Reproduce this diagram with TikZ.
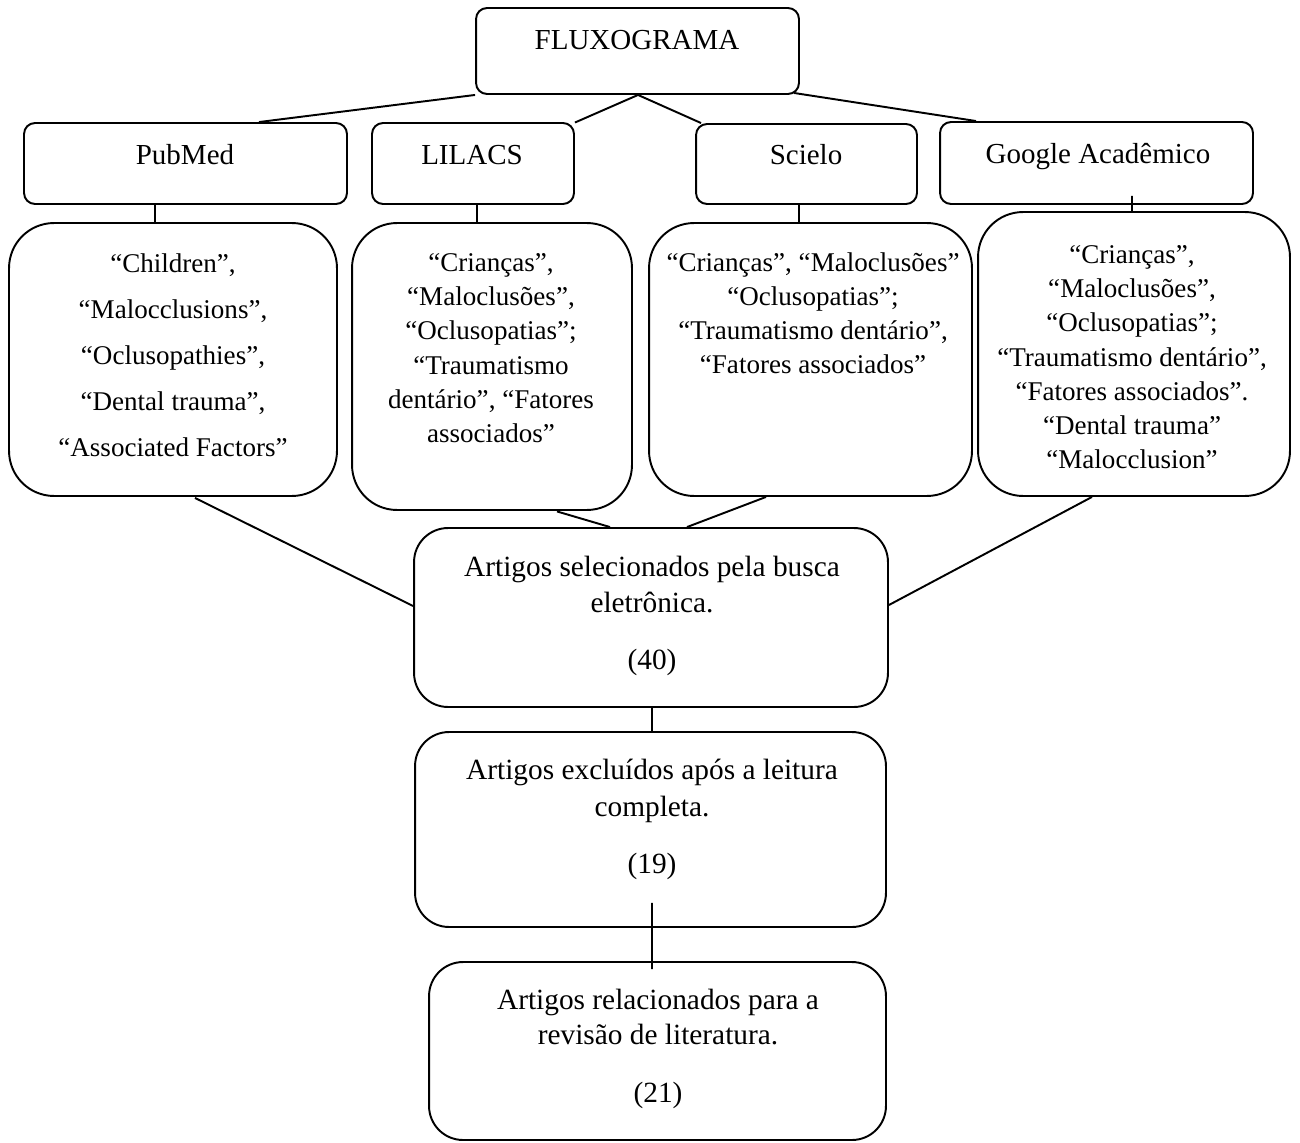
\documentclass[tikz,border=0pt]{standalone}
\usepackage{fontspec}
\setmainfont{Liberation Serif}
\usetikzlibrary{calc}
\begin{document}
\begin{tikzpicture}[x=0.02cm,y=-0.02cm,
  every node/.style={font=\fontsize{15.4}{19.5}\selectfont},
  line/.style={line width=1.1pt},
  boxs/.style={draw, line width=1.1pt, rounded corners=0.22cm, inner sep=0pt},
  boxk/.style={draw, line width=1.1pt, rounded corners=0.9cm, inner sep=0pt},
  boxa/.style={draw, line width=1.1pt, rounded corners=0.68cm, inner sep=0pt},
  txt/.style={align=center, inner sep=0pt},
  txtn/.style={align=center, inner sep=0pt, anchor=north},
  txtb/.style={inner sep=0pt, anchor=base, font=\fontsize{16.5}{19.5}\selectfont}]
\useasboundingbox (0,0) rectangle (1300,1142);

% boxes
\node[boxs, minimum width=6.46cm, minimum height=1.72cm] (flux) at (637.5,51) {};
\node[boxs, minimum width=6.46cm, minimum height=1.62cm] (pub) at (185.5,163.5) {};
\node[boxs, minimum width=4.04cm, minimum height=1.62cm] (lil) at (473,163.5) {};
\node[boxs, minimum width=4.42cm, minimum height=1.60cm] (sci) at (806.5,164) {};
\node[boxs, minimum width=6.26cm, minimum height=1.64cm] (goo) at (1096.5,163) {};
\node[boxk, minimum width=6.56cm, minimum height=5.46cm] (kpub) at (173,359.5) {};
\node[boxk, minimum width=5.60cm, minimum height=5.74cm] (klil) at (492,366.5) {};
\node[boxk, minimum width=6.46cm, minimum height=5.46cm] (ksci) at (810.5,359.5) {};
\node[boxk, minimum width=6.24cm, minimum height=5.68cm] (kgoo) at (1134,354) {};
\node[boxa, minimum width=9.48cm, minimum height=3.58cm] (sel) at (651,617.5) {};
\node[boxa, minimum width=9.42cm, minimum height=3.90cm] (exc) at (650.5,829.5) {};
\node[boxa, minimum width=9.14cm, minimum height=3.56cm] (rel) at (657.5,1051) {};

% texts
\node[txtb] (tflux) at (637,50) {FLUXOGRAMA};
\node[txtb] (tpub) at (185,165) {PubMed};
\node[txtb] (tlil) at (472,165) {LILACS};
\node[txtb] (tsci) at (806,165) {Scielo};
\node[txtb] (tgoo) at (1098,164) {Google Acadêmico};

\node[txtn, font=\fontsize{15.4}{26.2}\selectfont] (tkpub) at (173,253)
  {“Children”,\\“Malocclusions”,\\“Oclusopathies”,\\“Dental trauma”,\\“Associated Factors”};
\node[txtn] (tklil) at (491,253)
  {“Crianças”,\\“Maloclusões”,\\“Oclusopatias”;\\“Traumatismo\\dentário”, “Fatores\\associados”};
\node[txtn] (tksci) at (813,252)
  {“Crianças”, “Maloclusões”\\“Oclusopatias”;\\“Traumatismo dentário”,\\“Fatores associados”};
\node[txtn] (tkgoo) at (1132,245)
  {“Crianças”,\\“Maloclusões”,\\“Oclusopatias”;\\“Traumatismo dentário”,\\“Fatores associados”.\\“Dental trauma”\\“Malocclusion”};

\node[txtn, font=\fontsize{16.7}{20.4}\selectfont] (tsel) at (652,556)
  {Artigos selecionados pela busca\\eletrônica.\\[0.42cm](40)};
\node[txtn, font=\fontsize{16.7}{20.8}\selectfont] (texc) at (652,759)
  {Artigos excluídos após a leitura\\completa.\\[0.42cm](19)};
\node[txtn, font=\fontsize{16.7}{19.8}\selectfont] (trel) at (658,989)
  {Artigos relacionados para a\\revisão de literatura.\\[0.46cm](21)};

% connectors
\draw[line] (flux.south west) -- ($(pub.north)+(73.5,0)$);
\draw[line] ($(flux.south)+(0.5,0)$) -- ($(lil.north east)+(0,0.5)$);
\draw[line] ($(flux.south)+(0.5,0)$) -- ($(sci.north west)+(6,0)$);
\draw[line] ($(flux.south east)+(-6,-2)$) -- ($(goo.north west)+(37,0)$);
\draw[line] ($(pub.south)+(-30.5,0)$) -- ($(kpub.north)+(-18,0)$);
\draw[line] ($(lil.south)+(4,0)$) -- ($(klil.north)+(-15,0)$);
\draw[line] ($(sci.south)+(-7.5,0)$) -- ($(ksci.north)+(-11.5,0)$);
\draw[line] ($(goo.south)+(35.5,-9)$) -- ($(kgoo.north)+(-2,0)$);
\draw[line] ($(kpub.south)+(22,1)$) -- ($(sel.west)+(0,-11.5)$);
\draw[line] ($(klil.south)+(65,0.5)$) -- ($(sel.north)+(-41,0)$);
\draw[line] ($(ksci.south)+(-44.5,0)$) -- ($(sel.north)+(36,0)$);
\draw[line] ($(kgoo.south)+(-42,0)$) -- ($(sel.east)+(0,-12.5)$);
\draw[line] ($(sel.south)+(1,0)$) -- ($(exc.north)+(1.5,0)$);
\draw[line] ($(exc.south)+(1.5,-25)$) -- ($(rel.north)+(-5.5,8)$);
\end{tikzpicture}
\end{document}
